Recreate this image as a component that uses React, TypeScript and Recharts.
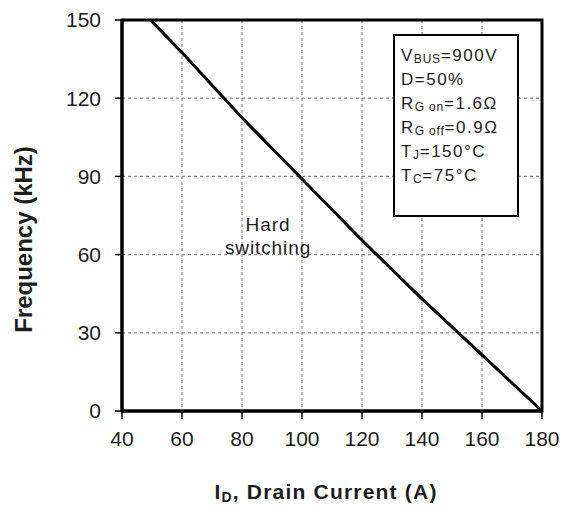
import React from 'react';
import {
  LineChart,
  Line,
  XAxis,
  YAxis,
  CartesianGrid,
  ReferenceArea,
  Label,
} from 'recharts';

const currentTicks = [40, 60, 80, 100, 120, 140, 160, 180];
const frequencyTicks = [0, 30, 60, 90, 120, 150];

// max switching frequency vs drain current
const drainCurrent = [49.5, 60, 80, 100, 120, 140, 160, 180];
const maxFrequency = [150, 137.5, 112.5, 89, 65.5, 43, 21.5, 0];

const conditions = [
  { main: 'V', sub: 'BUS', rest: '=900V' },
  { main: 'D=50%', sub: '', rest: '' },
  { main: 'R', sub: 'G on', rest: '=1.6Ω' },
  { main: 'R', sub: 'G off', rest: '=0.9Ω' },
  { main: 'T', sub: 'J', rest: '=150°C' },
  { main: 'T', sub: 'C', rest: '=75°C' },
];

const data = drainCurrent.map((id, i) => ({ id, f: maxFrequency[i] }));

const FONT = '"Liberation Sans", Arial, sans-serif';
const INK = '#1c1c1c';

function YTitle({ viewBox }: any) {
  const x = viewBox.x + 32;
  const y = viewBox.y + viewBox.height / 2 + 24;
  return (
    <text
      x={x}
      y={y}
      transform={`rotate(-90 ${x} ${y})`}
      textAnchor="middle"
      fontFamily={FONT}
      fontWeight="bold"
      fontSize={24}
      fill={INK}
    >
      Frequency (kHz)
    </text>
  );
}

function XTitle({ viewBox }: any) {
  const x = viewBox.x + viewBox.width / 2 - 6;
  const y = viewBox.y + 88;
  return (
    <text
      x={x}
      y={y}
      textAnchor="middle"
      fontFamily={FONT}
      fontWeight="bold"
      fontSize={21}
      letterSpacing={1.2}
      fill={INK}
    >
      I
      <tspan fontSize={14} dy={3}>D</tspan>
      <tspan dy={-3}>, Drain Current (A)</tspan>
    </text>
  );
}

export default function App() {
  return (
    <div style={{ position: 'absolute', left: 0, top: 0, width: 565, height: 506, background: '#fff' }}>
      <LineChart
        width={565}
        height={506}
        data={data}
        margin={{ top: 20, right: 23, bottom: 0, left: 0 }}
      >
        <CartesianGrid stroke="#8a8a8a" strokeDasharray="3 3" strokeWidth={1.2} />
        <XAxis
          dataKey="id"
          type="number"
          domain={[40, 180]}
          ticks={currentTicks}
          interval={0}
          height={95}
          tickSize={8}
          tickMargin={12}
          axisLine={{ stroke: '#000', strokeWidth: 3 }}
          tickLine={{ stroke: '#000', strokeWidth: 1.5 }}
          tick={{ fill: INK, fontSize: 21, fontFamily: FONT }}
        >
          <Label content={<XTitle />} />
        </XAxis>
        <YAxis
          type="number"
          domain={[0, 150]}
          ticks={frequencyTicks}
          interval={0}
          width={122}
          tickSize={7}
          tickMargin={14}
          axisLine={{ stroke: '#000', strokeWidth: 3 }}
          tickLine={{ stroke: '#000', strokeWidth: 1.5 }}
          tick={{ fill: INK, fontSize: 21, fontFamily: FONT }}
        >
          <Label content={<YTitle />} />
        </YAxis>
        <ReferenceArea
          x1={40}
          x2={180}
          y1={0}
          y2={150}
          fill="none"
          fillOpacity={0}
          stroke="#000"
          strokeWidth={3}
          ifOverflow="visible"
        />
        <Line
          type="linear"
          dataKey="f"
          stroke="#000"
          strokeWidth={3}
          dot={false}
          isAnimationActive={false}
        />
      </LineChart>

      <div
        style={{
          position: 'absolute',
          left: 218,
          top: 213,
          width: 100,
          textAlign: 'center',
          fontFamily: FONT,
          fontSize: 19,
          lineHeight: '23px',
          letterSpacing: 0.9,
          color: INK,
          background: 'transparent',
        }}
      >
        <div>Hard</div>
        <div>switching</div>
      </div>

      <div
        style={{
          position: 'absolute',
          left: 393,
          top: 34,
          width: 122,
          height: 171,
          border: '2px solid #000',
          background: '#fff',
          boxSizing: 'content-box',
          fontFamily: FONT,
          fontSize: 17,
          letterSpacing: 1.5,
          color: INK,
          paddingTop: 8,
        }}
      >
        {conditions.map((c) => (
          <div key={c.main + c.sub} style={{ paddingLeft: 6, height: 24, lineHeight: '24px', whiteSpace: 'nowrap' }}>
            {c.main}
            {c.sub && (
              <span style={{ fontSize: 12, position: 'relative', top: 2, letterSpacing: 0.8 }}>{c.sub}</span>
            )}
            {c.rest}
          </div>
        ))}
      </div>
    </div>
  );
}
